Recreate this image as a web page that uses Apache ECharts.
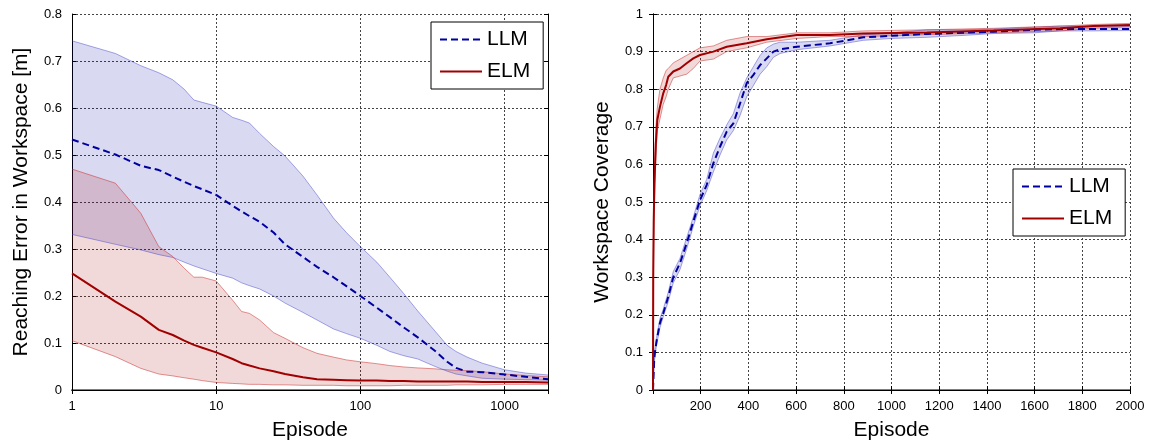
<!DOCTYPE html>
<html>
<head>
<meta charset="utf-8">
<script src="https://cdn.jsdelivr.net/npm/echarts@6/dist/echarts.min.js"></script>
<style>
html,body{margin:0;padding:0;background:#fff;}
#c{width:1149px;height:446px;}
</style>
</head>
<body>
<div id="c"></div>
<script>
// ---------- Left chart: Reaching error vs episode (log x) ----------
const leftEpisodes = [1,2,3,4,5,6,7,8,10,13,15,17,20,25,30,40,50,65,80,100,130,160,200,250,330,400,460,550,700,1000,1400,2000];
const llmErrMean  = [0.533,0.501,0.477,0.468,0.454,0.443,0.434,0.427,0.415,0.392,0.380,0.370,0.358,0.335,0.310,0.283,0.262,0.240,0.221,0.200,0.175,0.155,0.133,0.112,0.083,0.060,0.047,0.039,0.038,0.033,0.028,0.023];
const llmErrUpper = [0.743,0.716,0.690,0.675,0.660,0.640,0.617,0.612,0.604,0.580,0.574,0.568,0.546,0.518,0.498,0.455,0.415,0.366,0.335,0.305,0.272,0.240,0.205,0.168,0.125,0.095,0.082,0.070,0.057,0.043,0.036,0.032];
const llmErrLower = [0.331,0.310,0.298,0.288,0.282,0.272,0.264,0.258,0.248,0.238,0.228,0.222,0.215,0.200,0.185,0.165,0.149,0.130,0.120,0.110,0.095,0.082,0.073,0.066,0.050,0.040,0.034,0.030,0.025,0.023,0.022,0.021];
const elmErrMean  = [0.248,0.188,0.156,0.128,0.117,0.105,0.096,0.090,0.080,0.066,0.057,0.052,0.046,0.040,0.034,0.027,0.023,0.022,0.021,0.020,0.020,0.019,0.019,0.018,0.018,0.018,0.018,0.018,0.017,0.017,0.017,0.016];
const elmErrUpper = [0.470,0.440,0.376,0.305,0.284,0.259,0.240,0.240,0.232,0.191,0.167,0.163,0.149,0.122,0.110,0.090,0.078,0.070,0.064,0.060,0.056,0.052,0.049,0.047,0.045,0.043,0.042,0.041,0.039,0.034,0.031,0.028];
const elmErrLower = [0.105,0.071,0.046,0.034,0.030,0.026,0.023,0.020,0.016,0.014,0.013,0.012,0.012,0.011,0.011,0.010,0.010,0.010,0.009,0.009,0.009,0.009,0.010,0.010,0.010,0.010,0.011,0.011,0.011,0.012,0.012,0.012];
const leftXTicks = [1,10,100,1000];

// ---------- Right chart: Workspace coverage vs episode ----------
const llmCovEpisodes = [0,5,8,15,29,43,64,85,113,141,169,197,225,253,281,309,337,365,393,421,449,477,505,533,603,742,882,1000,1148,1300,1427,1600,1707,1847,2000];
const llmCovMean  = [0,0.080,0.100,0.130,0.178,0.204,0.248,0.300,0.337,0.390,0.448,0.505,0.545,0.603,0.647,0.687,0.709,0.762,0.816,0.838,0.864,0.882,0.900,0.906,0.913,0.922,0.938,0.942,0.947,0.950,0.953,0.958,0.960,0.960,0.960];
const llmCovUpper = [0.010,0.090,0.110,0.140,0.190,0.215,0.260,0.315,0.350,0.405,0.460,0.520,0.560,0.630,0.670,0.705,0.735,0.790,0.830,0.860,0.890,0.910,0.920,0.925,0.925,0.930,0.945,0.950,0.958,0.958,0.960,0.965,0.968,0.968,0.968];
const llmCovLower = [0,0.070,0.090,0.120,0.165,0.195,0.235,0.285,0.320,0.375,0.435,0.490,0.530,0.580,0.625,0.665,0.690,0.730,0.780,0.810,0.840,0.860,0.885,0.895,0.905,0.915,0.930,0.935,0.938,0.943,0.948,0.950,0.955,0.955,0.956];
const elmCovEpisodes = [0,1,3,6,12,18,29,43,55,64,85,113,141,169,197,253,309,393,477,603,742,882,1148,1427,1707,1847,2000];
const elmCovMean  = [0,0.300,0.450,0.550,0.656,0.718,0.753,0.789,0.811,0.833,0.847,0.855,0.869,0.882,0.891,0.900,0.913,0.922,0.933,0.944,0.944,0.948,0.951,0.956,0.962,0.968,0.971];
const elmCovUpper = [0.010,0.350,0.500,0.600,0.700,0.750,0.800,0.830,0.850,0.855,0.870,0.880,0.890,0.900,0.910,0.915,0.930,0.940,0.940,0.950,0.950,0.955,0.958,0.962,0.968,0.972,0.975];
const elmCovLower = [0,0.250,0.400,0.500,0.620,0.690,0.720,0.760,0.780,0.800,0.830,0.835,0.840,0.855,0.875,0.880,0.900,0.910,0.925,0.935,0.940,0.940,0.945,0.950,0.955,0.962,0.966];

const FONT = "'Liberation Sans', Arial, sans-serif";
const LLM_COLOR = '#0000a0';
const ELM_COLOR = '#a00000';
const LLM_FILL = 'rgba(0,0,160,0.15)';
const ELM_FILL = 'rgba(170,0,0,0.15)';
const LLM_EDGE = 'rgba(60,60,200,0.45)';
const ELM_EDGE = 'rgba(200,40,40,0.5)';

function pairs(xs, ys){ return xs.map((x,i)=>[x, ys[i]]); }

function band(xs, up, lo, xi, yi, fill, edge){
  return [
    {type:'custom', xAxisIndex:xi, yAxisIndex:yi, silent:true, z:1,
     data: xs.map((x,i)=>[x, lo[i], up[i]]),
     encode:{x:0, y:[1,2]},
     renderItem:(params, api)=>{
       if(params.dataIndex !== 0) return null;
       const top = xs.map((x,i)=>api.coord([x, up[i]]));
       const bot = xs.map((x,i)=>api.coord([x, lo[i]])).reverse();
       return {type:'polygon', shape:{points:top.concat(bot)}, style:{fill:fill, stroke:null}};
     }},
    {type:'line', xAxisIndex:xi, yAxisIndex:yi, data:pairs(xs, up), symbol:'none', silent:true,
     lineStyle:{color:edge, width:1}, z:2},
    {type:'line', xAxisIndex:xi, yAxisIndex:yi, data:pairs(xs, lo), symbol:'none', silent:true,
     lineStyle:{color:edge, width:1}, z:2}
  ];
}

const gridLine = {show:true, lineStyle:{color:'#444', type:[2,2], width:1}};
const tickInside = {show:true, inside:true, length:4, lineStyle:{color:'#000'}};
const labelStyle = {fontFamily:FONT, fontSize:13, color:'#000'};
const legendBase = {data:['LLM','ELM'], orient:'vertical', padding:[7,13,7,8], itemGap:11,
  itemWidth:42, itemHeight:16, borderColor:'#000', borderWidth:1, borderRadius:0, backgroundColor:'#fff',
  itemStyle:{color:'transparent', borderColor:'transparent', borderWidth:0, opacity:0},
  textStyle:{fontFamily:FONT, fontSize:21, color:'#000'}};

const option = {
  animation:false,
  backgroundColor:'#fff',
  textStyle:{fontFamily:FONT},
  grid:[
    {left:72, top:14, width:476, height:376},
    {left:653, top:14, width:477, height:376}
  ],
  legend:[
    Object.assign({}, legendBase, {left:431, top:22}),
    Object.assign({}, legendBase, {left:1013, top:169})
  ],
  xAxis:[
    {type:'log', logBase:10, gridIndex:0, min:1, max:2000, position:'bottom',
     name:'Episode', nameLocation:'middle', nameGap:30, nameTextStyle:{fontFamily:FONT, fontSize:21, color:'#000'},
     axisLine:{show:true, lineStyle:{color:'#808080', width:2}}, axisTick:tickInside,
     axisLabel:{...labelStyle, margin:10,
       formatter:v=>{const r=Math.round(v); return leftXTicks.includes(r)?String(r):'';}},
     splitLine:gridLine, minorTick:{show:false}, minorSplitLine:{show:false}},
    {type:'log', logBase:10, gridIndex:0, min:1, max:2000, position:'top',
     axisLine:{show:true, lineStyle:{color:'#000', width:1}}, axisTick:tickInside,
     axisLabel:{show:false}, splitLine:{show:false}},
    {type:'value', gridIndex:1, min:0, max:2000, interval:200, position:'bottom',
     name:'Episode', nameLocation:'middle', nameGap:30, nameTextStyle:{fontFamily:FONT, fontSize:21, color:'#000'},
     axisLine:{show:true, lineStyle:{color:'#808080', width:2}}, axisTick:tickInside,
     axisLabel:{...labelStyle, margin:10, formatter:v=> v===0?'':String(v)},
     splitLine:gridLine},
    {type:'value', gridIndex:1, min:0, max:2000, interval:200, position:'top',
     axisLine:{show:true, lineStyle:{color:'#000', width:1}}, axisTick:tickInside,
     axisLabel:{show:false}, splitLine:{show:false}}
  ],
  yAxis:[
    {type:'value', gridIndex:0, min:0, max:0.8, interval:0.1, position:'left',
     name:'Reaching Error in Workspace [m]', nameLocation:'middle', nameGap:40,
     nameTextStyle:{fontFamily:FONT, fontSize:21, color:'#000'},
     axisLine:{show:true, lineStyle:{color:'#000', width:1}}, axisTick:tickInside,
     axisLabel:{...labelStyle, margin:10, formatter:v=>String(+v.toFixed(1))},
     splitLine:gridLine},
    {type:'value', gridIndex:0, min:0, max:0.8, interval:0.1, position:'right',
     axisLine:{show:true, lineStyle:{color:'#000', width:1}}, axisTick:tickInside,
     axisLabel:{show:false}, splitLine:{show:false}},
    {type:'value', gridIndex:1, min:0, max:1, interval:0.1, position:'left',
     name:'Workspace Coverage', nameLocation:'middle', nameGap:40,
     nameTextStyle:{fontFamily:FONT, fontSize:21, color:'#000'},
     axisLine:{show:true, lineStyle:{color:'#000', width:1}}, axisTick:tickInside,
     axisLabel:{...labelStyle, margin:10, formatter:v=>String(+v.toFixed(1))},
     splitLine:gridLine},
    {type:'value', gridIndex:1, min:0, max:1, interval:0.1, position:'right',
     axisLine:{show:true, lineStyle:{color:'#000', width:1}}, axisTick:tickInside,
     axisLabel:{show:false}, splitLine:{show:false}}
  ],
  series:[
    ...band(leftEpisodes, llmErrUpper, llmErrLower, 0, 0, LLM_FILL, LLM_EDGE),
    ...band(leftEpisodes, elmErrUpper, elmErrLower, 0, 0, ELM_FILL, ELM_EDGE),
    {type:'line', name:'LLM', xAxisIndex:0, yAxisIndex:0, data:pairs(leftEpisodes, llmErrMean), symbol:'none',
     lineStyle:{color:LLM_COLOR, width:2, type:[7,4]}, itemStyle:{color:LLM_COLOR}, z:3},
    {type:'line', name:'ELM', xAxisIndex:0, yAxisIndex:0, data:pairs(leftEpisodes, elmErrMean), symbol:'none',
     lineStyle:{color:ELM_COLOR, width:2}, itemStyle:{color:ELM_COLOR}, z:3},

    ...band(llmCovEpisodes, llmCovUpper, llmCovLower, 2, 2, LLM_FILL, LLM_EDGE),
    ...band(elmCovEpisodes, elmCovUpper, elmCovLower, 2, 2, ELM_FILL, ELM_EDGE),
    {type:'line', name:'LLM', xAxisIndex:2, yAxisIndex:2, data:pairs(llmCovEpisodes, llmCovMean), symbol:'none',
     lineStyle:{color:LLM_COLOR, width:2, type:[7,4]}, itemStyle:{color:LLM_COLOR}, z:3},
    {type:'line', name:'ELM', xAxisIndex:2, yAxisIndex:2, data:pairs(elmCovEpisodes, elmCovMean), symbol:'none',
     lineStyle:{color:ELM_COLOR, width:2}, itemStyle:{color:ELM_COLOR}, z:3}
  ]
};

const chart = echarts.init(document.getElementById('c'), null, {renderer:'canvas'});
chart.setOption(option);
</script>
</body>
</html>
